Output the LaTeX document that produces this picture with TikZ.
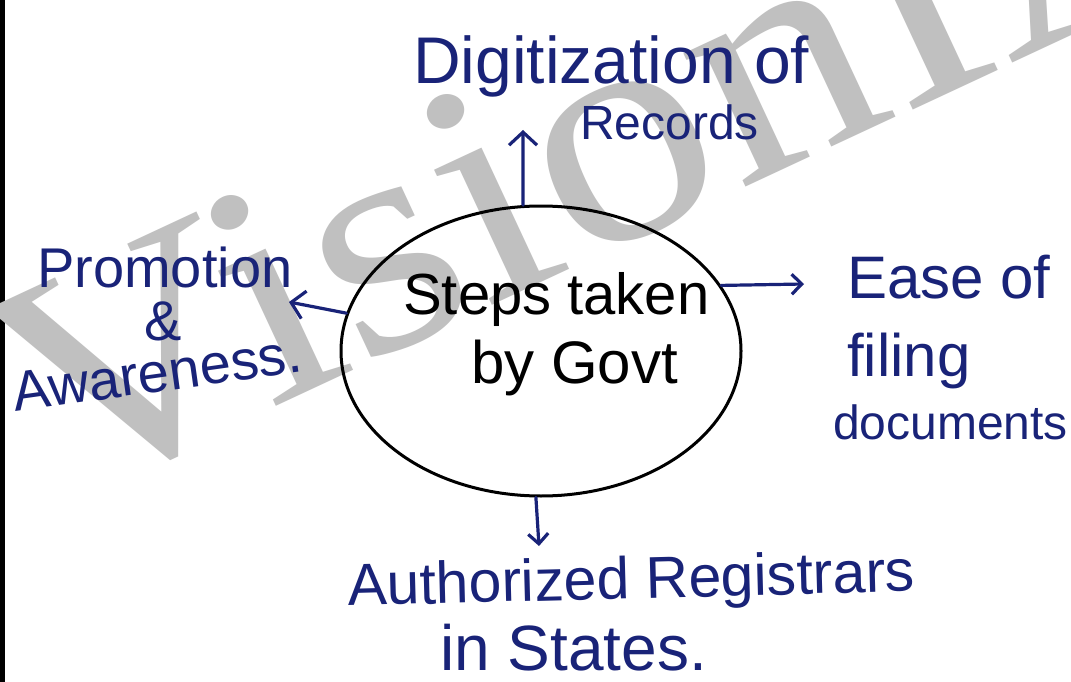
\documentclass[tikz,border=0pt]{standalone}
\usepackage{fontspec}
\setmainfont{Liberation Sans}
\newfontfamily\wmfont{Liberation Serif}
\usetikzlibrary{shapes.geometric,arrows.meta}
\definecolor{ink}{RGB}{25,35,120}
\definecolor{wmgray}{RGB}{192,192,192}
\begin{document}
\begin{tikzpicture}[x=1pt,y=-1pt,
  hand/.style={text=ink, inner sep=0pt, anchor=base west, font=\fontsize{#1}{#1}\selectfont},
  pen/.style={text=black, inner sep=0pt, anchor=base west, font=\fontsize{#1}{#1}\selectfont},
  arr/.style={draw=ink, line width=3.2pt, line cap=round,
    -{Straight Barb[length=13pt,width=28pt,line width=3.2pt]}},
  smallarr/.style={arr, -{Straight Barb[length=10pt,width=20pt,line width=3.2pt]}},
  bubble/.style={ellipse, draw=black, line width=3pt, inner sep=0pt}]
\useasboundingbox (0,0) rectangle (1071,682);
\fill[white] (0,0) rectangle (1071,682);
\draw[black, line width=5pt] (2.5,0) -- (2.5,682);
% watermark
\node[inner sep=0pt, anchor=base west, rotate=25, xscale=1.12, text=wmgray,
  font=\wmfont\fontsize{320}{320}\selectfont] (wmark) at (54,510) {VisionIAS};
% central bubble
\node[bubble, minimum width=400pt, minimum height=290pt] (govt) at (541,351) {};
\node[pen=58] (steps) at (403,314) {Steps taken};
\node[pen=60] (bygovt) at (471,383) {by Govt};
% top
\node[hand=66] (dig) at (413,84) {Digitization of};
\node[hand=48] (rec) at (580,140) {Records};
% left
\node[hand=56] (prom) at (37,287) {Promotion};
\node[hand=56, anchor=base] (amp) at (163,340) {\&};
\node[hand=56, rotate=8] (awa) at (15,412) {Awareness.};
% right
\node[hand=60] (ease) at (847,298) {Ease of};
\node[hand=60] (fil) at (847,376) {filing};
\node[hand=48] (doc) at (833,439) {documents};
% bottom
\node[hand=59, rotate=1.5] (auth) at (348,606) {Authorized Registrars};
\node[hand=64] (instates) at (440,670) {in States.};
% connectors
\coordinate (tipT) at (523,130);
\coordinate (tipL) at (289,302);
\coordinate (tipR) at (804,284);
\coordinate (tipB) at (539,546);
\draw[arr] (govt.97) -- (tipT);
\draw[arr] (govt.169) -- (tipL);
\draw[smallarr] (govt.20) -- (tipR);
\draw[smallarr] (govt.268) -- (tipB);
\end{tikzpicture}
\end{document}
